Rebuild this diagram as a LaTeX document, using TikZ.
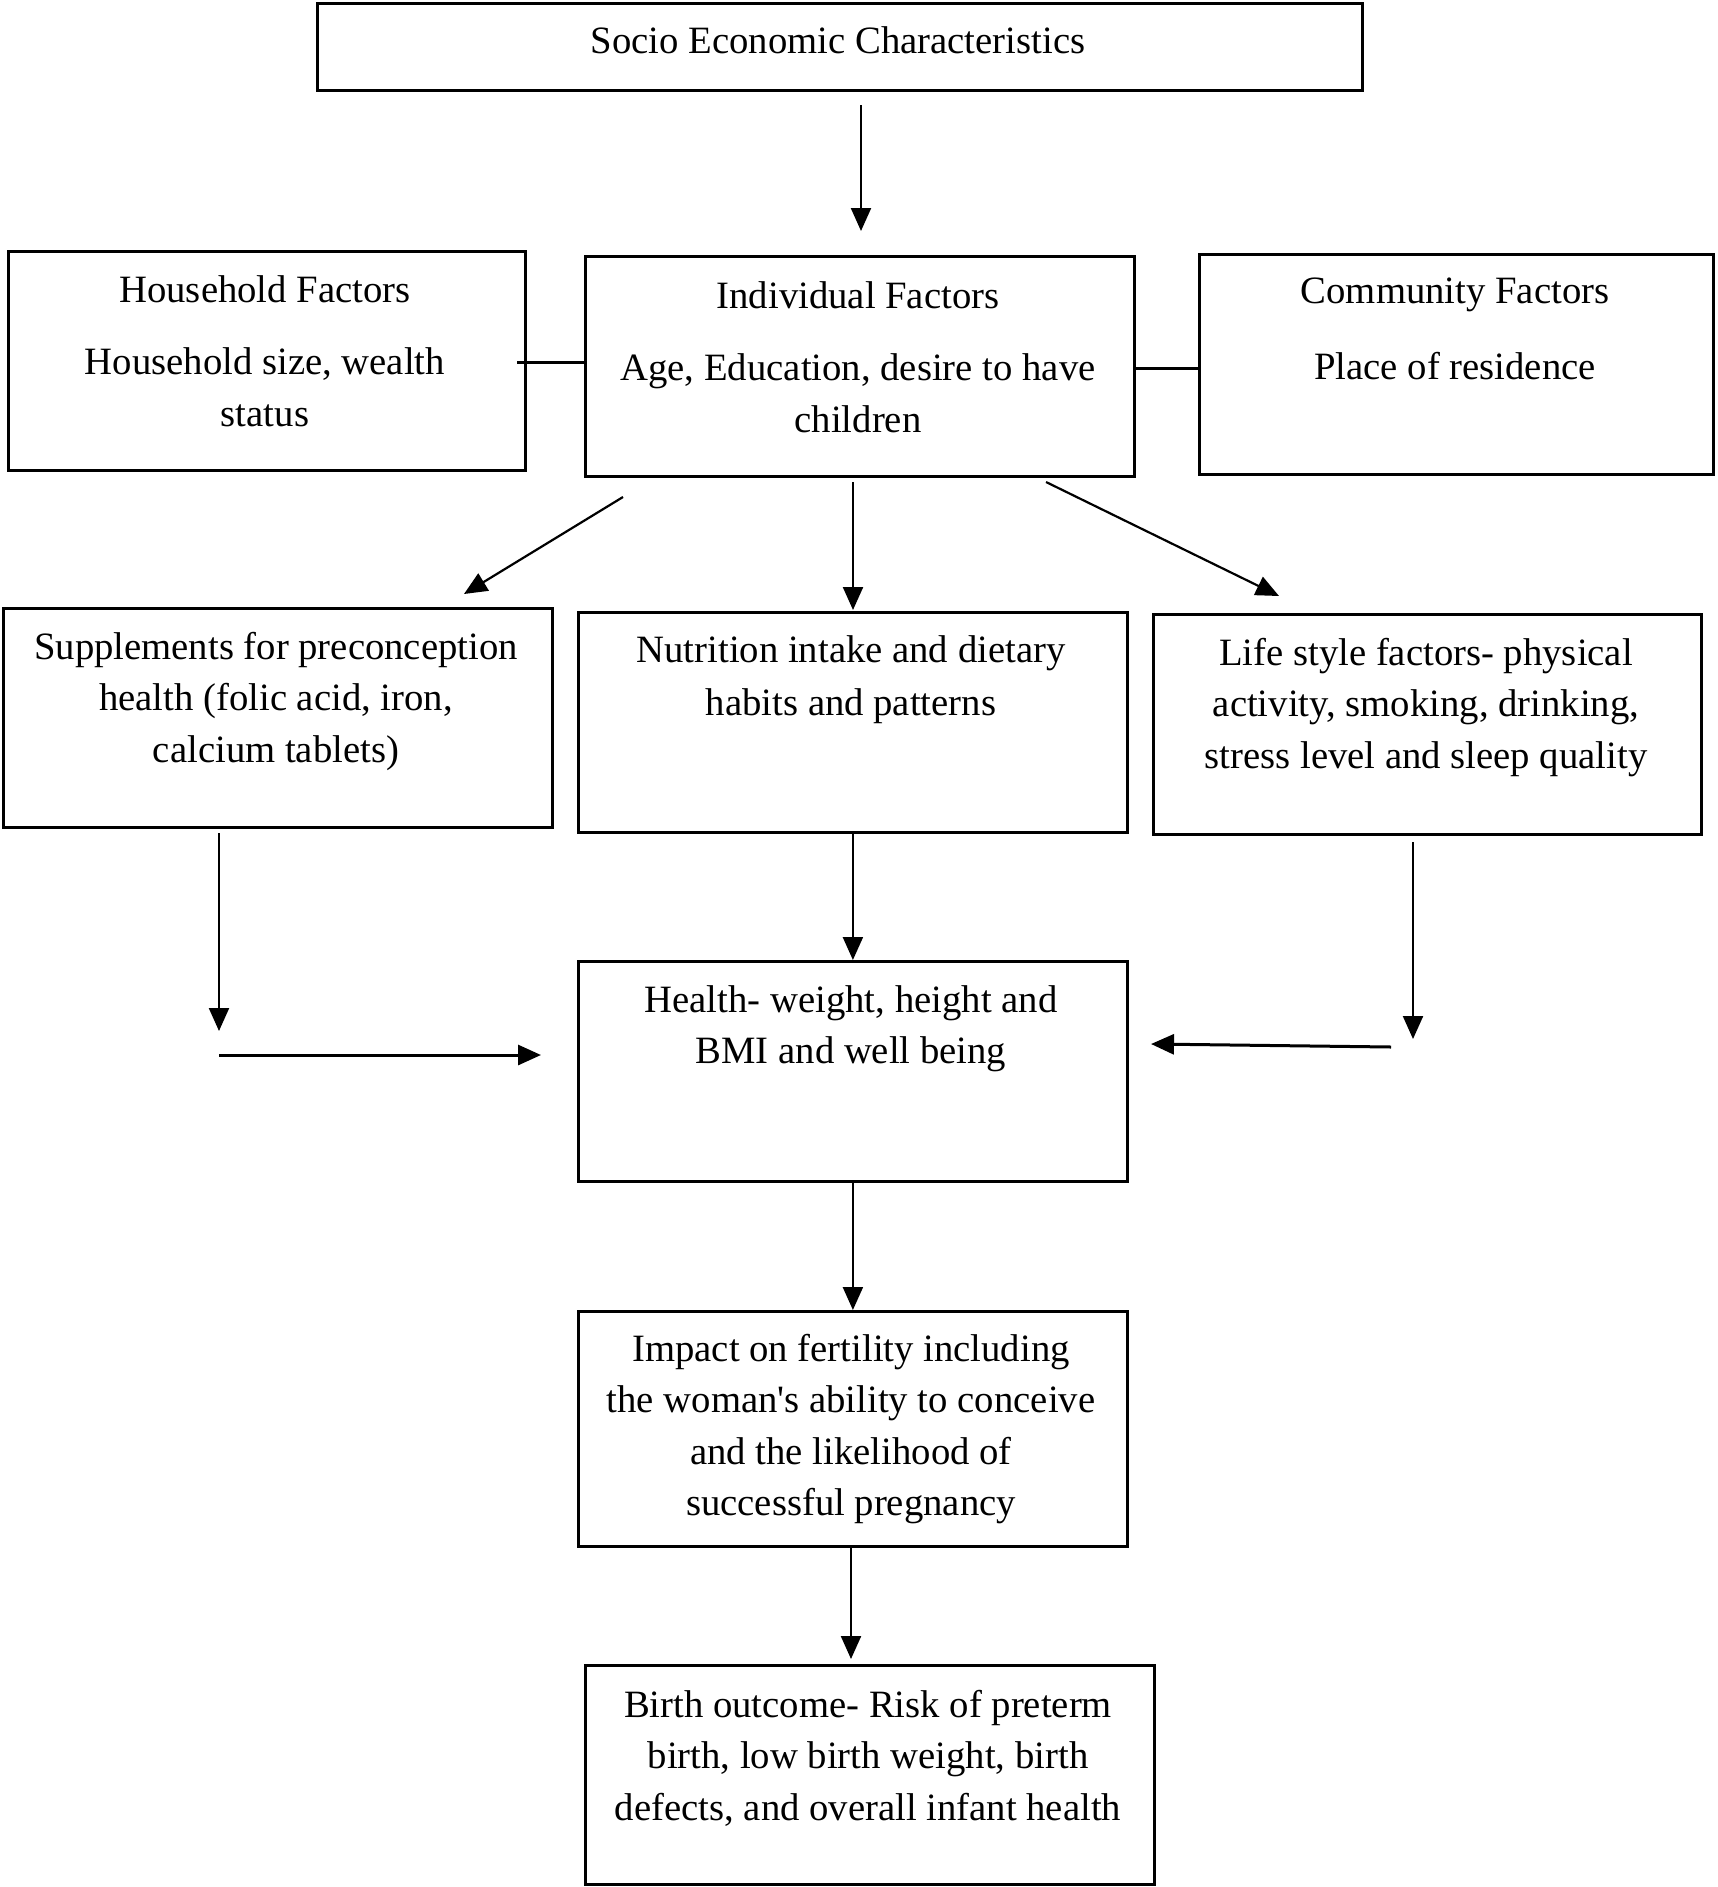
\documentclass[tikz,border=0pt]{standalone}
\usepackage{fontspec}
\setmainfont{Liberation Serif}[Ligatures=TeXOff]
\usetikzlibrary{arrows.meta}
\begin{document}
\begin{tikzpicture}[x=1pt,y=-1pt,
  box/.style={draw, line width=2.8pt, rectangle, anchor=north west, inner sep=0pt},
  txt/.style={anchor=north, align=center, inner sep=0pt, font=\fontsize{38.7pt}{51.5pt}\selectfont},
  arr/.style={line width=2.2pt, -{Triangle[length=23pt,width=20pt]}},
  thickarr/.style={line width=3pt, -{Triangle[length=23pt,width=20pt]}},
  link/.style={line width=3pt}]
\useasboundingbox (0,0) rectangle (1717,1887);
% boxes
\node[box, minimum width=1045pt, minimum height=87pt] (soc) at (316,2) {};
\node[box, minimum width=517pt, minimum height=219pt] (hh) at (7,250) {};
\node[box, minimum width=549pt, minimum height=220pt] (ind) at (584,255) {};
\node[box, minimum width=514pt, minimum height=220pt] (com) at (1198,253) {};
\node[box, minimum width=549pt, minimum height=219pt] (sup) at (2,607) {};
\node[box, minimum width=549pt, minimum height=220pt] (nut) at (577,611) {};
\node[box, minimum width=548pt, minimum height=220pt] (life) at (1152,613) {};
\node[box, minimum width=549pt, minimum height=220pt] (hea) at (577,960) {};
\node[box, minimum width=549pt, minimum height=235pt] (imp) at (577,1310) {};
\node[box, minimum width=569pt, minimum height=219pt] (bir) at (584,1664) {};
% texts
\node[txt] (tsoc) at (838,26) {Socio Economic Characteristics};
\node[txt] (thh) at (265,275) {Household Factors\\[21pt]Household size, wealth\\status};
\node[txt] (tind) at (858,281) {Individual Factors\\[21pt]Age, Education, desire to have\\children};
\node[txt] (tcom) at (1455,278) {Community Factors\\[24pt]Place of residence};
\node[txt] (tsup) at (276,632) {Supplements for preconception\\health (folic acid, iron,\\calcium tablets)};
\node[txt] (tnut) at (851,635) {Nutrition intake and dietary\\[2pt]habits and patterns};
\node[txt] (tlife) at (1426,638) {Life style factors- physical\\activity, smoking, drinking,\\stress level and sleep quality};
\node[txt] (thea) at (851,985) {Health- weight, height and\\BMI and well being};
\node[txt] (timp) at (851,1334) {Impact on fertility including\\the woman's ability to conceive\\and the likelihood of\\successful pregnancy};
\node[txt] (tbir) at (868,1690) {Birth outcome- Risk of preterm\\birth, low birth weight, birth\\defects, and overall infant health};
% free connector ends
\coordinate (s0) at (861,105);  \coordinate (e0) at (861,231);
\coordinate (h1) at (517,362);  \coordinate (i1) at (584,362);
\coordinate (i2) at (1133,368); \coordinate (c2) at (1198,368);
\coordinate (s1) at (623,497);  \coordinate (e1) at (464,594);
\coordinate (s2) at (853,482);  \coordinate (e2) at (853,610);
\coordinate (s3) at (1046,482); \coordinate (e3) at (1279,596);
\coordinate (s4) at (219,833);  \coordinate (e4) at (219,1031);
\coordinate (s5) at (219,1055); \coordinate (e5) at (541,1055);
\coordinate (s7) at (1413,842); \coordinate (e7) at (1413,1039);
\coordinate (s8) at (1391,1047);\coordinate (e8) at (1151,1044);
\coordinate (s10) at (851,1545);\coordinate (e10) at (851,1659);
% connectors
\draw[arr] (s0) -- (e0);
\draw[link] (h1) -- (i1);
\draw[link] (i2) -- (c2);
\draw[arr] (s1) -- (e1);
\draw[arr] (s2) -- (e2);
\draw[arr] (s3) -- (e3);
\draw[arr] (s4) -- (e4);
\draw[thickarr] (s5) -- (e5);
\draw[arr] (nut.south) -- (hea.north);
\draw[arr] (s7) -- (e7);
\draw[thickarr] (s8) -- (e8);
\draw[arr] (hea.south) -- (imp.north);
\draw[arr] (s10) -- (e10);
\end{tikzpicture}
\end{document}
